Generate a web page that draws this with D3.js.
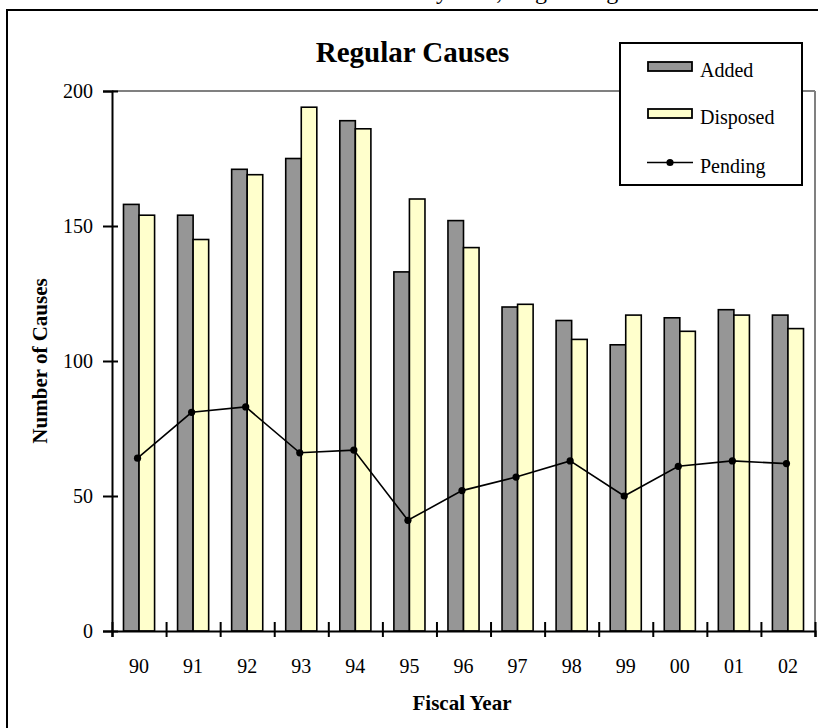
<!DOCTYPE html>
<html>
<head>
<meta charset="utf-8">
<script src="https://cdn.jsdelivr.net/npm/d3@7"></script>
<style>
  html, body { margin: 0; padding: 0; background: #fff; }
  svg { display: block; font-family: "Liberation Serif", "Times New Roman", serif; }
  svg text { font-family: "Liberation Serif", "Times New Roman", serif; }
</style>
</head>
<body>
<svg id="chart" width="818" height="728"></svg>
<script>
const years = ["90","91","92","93","94","95","96","97","98","99","00","01","02"];
const added    = [158,154,171,175,189,133,152,120,115,106,116,119,117];
const disposed = [154,145,169,194,186,160,142,121,108,117,111,117,112];
const pending  = [64,81,83,66,67,41,52,57,63,50,61,63,62];
const yTicks = [0,50,100,150,200];
const seriesNames = ["Added","Disposed","Pending"];
const colors = { Added: "#969696", Disposed: "#FFFFCC" };

(function () {
const FONT = "Liberation Serif, Times New Roman, serif";
const svg = d3.select("#chart");

// outer frame
svg.append("rect").attr("x", 7).attr("y", 10).attr("width", 830).attr("height", 740)
  .attr("fill", "none").attr("stroke", "#000").attr("stroke-width", 2);

// cut-off heading above frame (only descenders visible in the reference)
svg.append("text").attr("x", 330).attr("y", -1).attr("font-size", 24).attr("font-family", FONT)
  .text("Caseload by Year, Regular Agenda");

const pLeft = 112, pRight = 815, pTop = 91, pBottom = 631;
const x = d3.scaleBand().domain(years).range([pLeft, pRight]).padding(0);
const groupW = x.bandwidth() * 0.575;
const x1 = d3.scaleBand().domain(["Added","Disposed"])
  .range([(x.bandwidth() - groupW) / 2, (x.bandwidth() + groupW) / 2]);
const y = d3.scaleLinear().domain([0, 200]).range([pBottom, pTop]);

// plot area top and right edges (gray)
svg.append("line").attr("x1", pLeft).attr("x2", pRight).attr("y1", y(200)).attr("y2", y(200))
  .attr("stroke", "#808080").attr("stroke-width", 2);
svg.append("line").attr("x1", pRight).attr("x2", pRight).attr("y1", y(200)).attr("y2", y(0))
  .attr("stroke", "#808080").attr("stroke-width", 2);

// bars
const rows = years.map((yr, i) => ({ yr, Added: added[i], Disposed: disposed[i] }));
const g = svg.append("g");
g.selectAll("g.grp").data(rows).join("g").attr("class", "grp")
  .attr("transform", d => `translate(${x(d.yr)},0)`)
  .selectAll("rect").data(d => ["Added","Disposed"].map(k => ({ k, v: d[k] })))
  .join("rect")
  .attr("x", d => x1(d.k)).attr("width", x1.bandwidth())
  .attr("y", d => y(d.v)).attr("height", d => y(0) - y(d.v))
  .attr("fill", d => colors[d.k]).attr("stroke", "#000").attr("stroke-width", 1.6);

// pending line
const pts = years.map((yr, i) => ({ yr, v: pending[i] }));
const px = d => x(d.yr) + x.bandwidth() / 2 - 1.5;
const line = d3.line().x(px).y(d => y(d.v));
svg.append("path").datum(pts).attr("d", line).attr("fill", "none")
  .attr("stroke", "#000").attr("stroke-width", 1.6);
svg.selectAll("circle.pt").data(pts).join("circle").attr("class", "pt")
  .attr("cx", px).attr("cy", d => y(d.v))
  .attr("r", 3.6).attr("fill", "#000");

// y axis
const yAxis = svg.append("g").attr("transform", `translate(${pLeft},0)`)
  .call(d3.axisLeft(y).tickValues(yTicks).tickSize(9).tickPadding(10));
yAxis.attr("font-family", FONT);
yAxis.select(".domain").attr("stroke", "#000").attr("stroke-width", 2);
yAxis.selectAll(".tick line").attr("x1", 6).attr("x2", -9).attr("stroke-width", 2);
yAxis.selectAll(".tick text").attr("font-size", 20).attr("font-family", FONT).attr("fill", "#000");

// x axis: boundary ticks crossing axis
const xb = d3.scaleLinear().domain([0, years.length]).range([pLeft, pRight]);
const xAxisB = svg.append("g").attr("transform", `translate(0,${pBottom})`)
  .call(d3.axisBottom(xb).ticks(years.length).tickFormat("").tickSize(6));
xAxisB.select(".domain").attr("stroke", "#000").attr("stroke-width", 2.2);
xAxisB.selectAll(".tick line").attr("y1", -9).attr("y2", 6).attr("stroke-width", 2);

const xAxisL = svg.append("g").attr("transform", `translate(0,${pBottom})`)
  .call(d3.axisBottom(x).tickSize(0).tickPadding(28));
xAxisL.attr("font-family", FONT);
xAxisL.select(".domain").remove();
xAxisL.selectAll(".tick text").attr("font-size", 20).attr("font-family", FONT).attr("fill", "#000");

// titles
svg.append("text").attr("x", 412.5).attr("y", 62).attr("text-anchor", "middle").attr("font-family", FONT)
  .attr("font-size", 29).attr("font-weight", "bold").text("Regular Causes");
svg.append("text").attr("x", 462).attr("y", 710).attr("text-anchor", "middle").attr("font-family", FONT)
  .attr("font-size", 21).attr("font-weight", "bold").text("Fiscal Year");
svg.append("text").attr("transform", `translate(47,${(pTop + pBottom) / 2}) rotate(-90)`)
  .attr("text-anchor", "middle").attr("font-size", 21).attr("font-weight", "bold").attr("font-family", FONT)
  .text("Number of Causes");

// legend
const lg = svg.append("g");
lg.append("rect").attr("x", 620).attr("y", 43).attr("width", 182).attr("height", 142)
  .attr("fill", "#fff").attr("stroke", "#000").attr("stroke-width", 2);
const legendY = { Added: 66.5, Disposed: 113.5, Pending: 162.5 };
seriesNames.forEach(name => {
  const cy = legendY[name];
  if (name === "Pending") {
    lg.append("line").attr("x1", 647).attr("x2", 693).attr("y1", cy).attr("y2", cy)
      .attr("stroke", "#000").attr("stroke-width", 1.6);
    lg.append("circle").attr("cx", 670).attr("cy", cy).attr("r", 3.6).attr("fill", "#000");
  } else {
    lg.append("rect").attr("x", 648).attr("y", cy - 4.5).attr("width", 44).attr("height", 9)
      .attr("fill", colors[name]).attr("stroke", "#000").attr("stroke-width", 1.8);
  }
  lg.append("text").attr("x", 700).attr("y", cy + 10).attr("font-size", 20).attr("font-family", FONT).text(name);
});
})();
</script>
</body>
</html>
